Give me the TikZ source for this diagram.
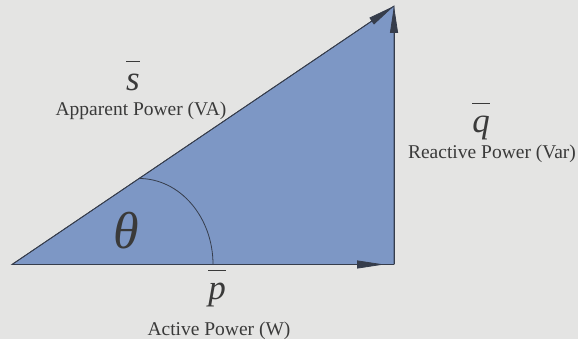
\documentclass[tikz,border=0pt]{standalone}
\usepackage{fontspec}
\setmainfont{Liberation Serif}
\newfontfamily\timesfont{Liberation Serif}
\usetikzlibrary{arrows.meta,positioning}
\definecolor{bgray}{HTML}{E4E4E3}
\definecolor{pblue}{HTML}{7D97C5}
\definecolor{edgec}{HTML}{363D4C}
\definecolor{ink}{HTML}{3A3A3A}
\newcommand{\barsym}[1]{\setbox0\hbox{\timesfont\itshape #1}%
  \rlap{\raisebox{29pt}{\rule{\wd0}{1.2pt}}}\box0}

\begin{document}
\begin{tikzpicture}[
  x=1pt, y=1pt,
  tri/.style={fill=pblue, draw=edgec, line width=0.8pt, line join=miter},
  arr/.style={draw=edgec, line width=0.8pt, -{Triangle[length=27pt, width=8pt]}},
  sym/.style={inner sep=0pt, anchor=base, text=ink, font=\timesfont\fontsize{35}{40}\selectfont},
  caplbl/.style={inner sep=0pt, anchor=base, text=ink, font=\timesfont\fontsize{19.5}{23}\selectfont},
  ang/.style={inner sep=0pt, text=ink, font=\timesfont\fontsize{52}{56}\selectfont\itshape},
]
 \fill[bgray] (0,0) rectangle (578,339);

 % triangle corners
 \coordinate (O) at (12,74.5);
 \coordinate (P) at (394,74.5);
 \coordinate (S) at (394,333);

 \filldraw[tri] (O) -- (P) -- (S) -- cycle;

 % angle arc
 \coordinate (T) at (139,160.5);
 \draw[edgec, line width=0.8pt] (T) arc[start angle=90, end angle=0, x radius=74, y radius=86];
 \node[ang] (theta) at (126,108) {θ};

 % vectors
 \draw[arr, shorten >=10pt] (O) -- (P);
 \draw[arr] (P) -- (S);
 \draw[arr] (O) -- (S);

 % labels
 \node[sym] (s) at (133,248) {\barsym{s}};
 \node[caplbl] (slbl) at (141,223) {Apparent Power (VA)};
 \node[sym] (q) at (481,206) {\barsym{q}};
 \node[caplbl] (qlbl) at (492,180) {Reactive Power (Var)};
 \node[sym] (p) at (217,39) {\barsym{p}};
 \node[caplbl] (plbl) at (219,3) {Active Power (W)};
\end{tikzpicture}
\end{document}
